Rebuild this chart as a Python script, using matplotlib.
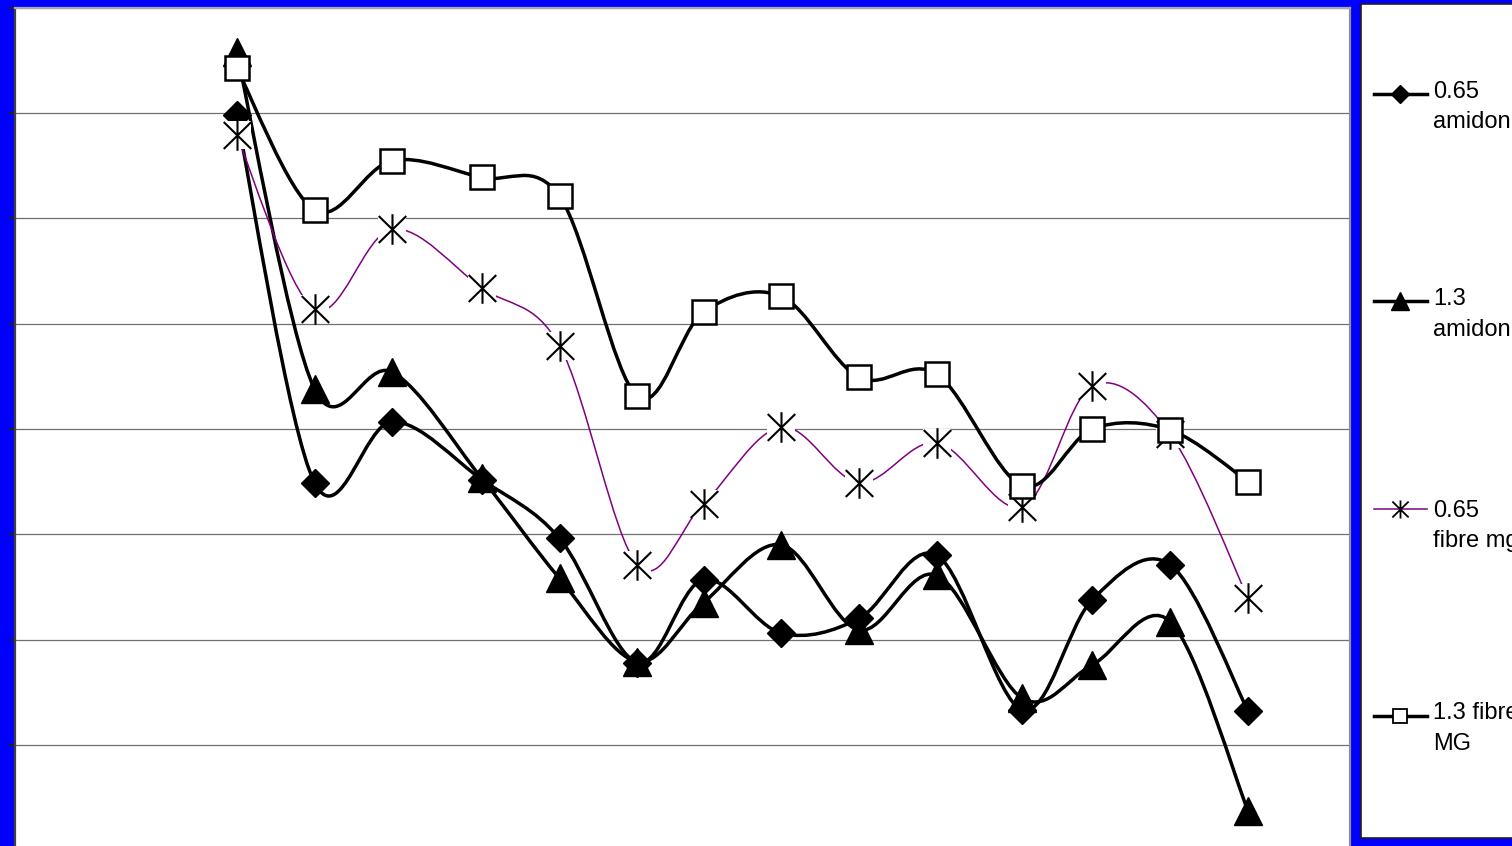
import numpy as np
import matplotlib.pyplot as plt
from matplotlib.path import Path
from matplotlib.patches import PathPatch

# Data (y in gridline units, x in sampling steps)
x_vals = [0, 1, 2, 3.15, 4.15, 5.15, 6, 7, 8, 9, 10.1, 11, 12, 13]
amidon_065 = [6.98, 3.49, 4.07, 3.52, 2.96, 1.78, 2.57, 2.06, 2.20, 2.80, 1.33, 2.38, 2.71, 1.32]
amidon_13 = [7.58, 4.38, 4.54, 3.53, 2.58, 1.79, 2.35, 2.90, 2.09, 2.61, 1.44, 1.76, 2.17, 0.37]
fibre_065 = [6.79, 5.14, 5.90, 5.34, 4.79, 2.71, 3.29, 4.02, 3.49, 3.87, 3.26, 4.41, 3.95, 2.39]
fibre_13 = [7.43, 6.08, 6.55, 6.39, 6.21, 4.31, 5.11, 5.26, 4.49, 4.52, 3.46, 4.00, 3.99, 3.50]
labels = ['0.65\namidon', '1.3\namidon', '0.65\nfibre mg', '1.3 fibre\nMG']

W, H = 1512, 846
BLUE = '#0000FF'
PURPLE = '#800080'

# asterisk marker: vertical bar plus an X
star = Path([(0, -1), (0, 1), (-0.9, -0.88), (0.9, 0.88), (-0.9, 0.88), (0.9, -0.88)],
            [Path.MOVETO, Path.LINETO] * 3)


def smooth_path(xs, ys):
    # Excel style smoothed line: cubic Bezier through every point
    pts = np.column_stack([xs, ys]).astype(float)
    n = len(pts)
    verts = [pts[0]]
    codes = [Path.MOVETO]
    for i in range(n - 1):
        p0 = pts[i - 1] if i > 0 else pts[i]
        p1, p2 = pts[i], pts[i + 1]
        p3 = pts[i + 2] if i + 2 < n else pts[i + 1]
        verts += [p1 + (p2 - p0) / 6, p2 - (p3 - p1) / 6, p2]
        codes += [Path.CURVE4] * 3
    return Path(verts, codes)


styles = [
    dict(data=amidon_065, color='black', lw=2.5, marker='D', ms=14, mfc='black', mew=1, lms=9),
    dict(data=amidon_13, color='black', lw=2.5, marker='^', ms=20, mfc='black', mew=1, lms=13),
    dict(data=fibre_065, color=PURPLE, lw=1.1, marker=star, ms=22, mfc='none', mew=1.5, lms=13),
    dict(data=fibre_13, color='black', lw=2.5, marker='s', ms=17, mfc='white', mew=1.8, lms=10.5),
]

fig = plt.figure(figsize=(W / 100, H / 100), dpi=100, facecolor=BLUE)

# plot area
ax = fig.add_axes([15 / W, (H - 850) / H, (1350 - 15) / W, (850 - 8) / H])
ax.set_facecolor('white')
ax.set_xlim(-2.85, 14.31)
ax.set_ylim(0, 8)
ax.set_yticks(range(0, 9))
ax.set_xticks([])
ax.tick_params(axis='y', direction='out', length=4, width=1.5, color='#202020', labelleft=False)
ax.grid(axis='y', color='#707070', lw=0.9, zorder=0)
ax.spines['left'].set_color('#404040')
ax.spines['left'].set_linewidth(1.6)
ax.spines['top'].set_color('#a8a8a8')
ax.spines['top'].set_linewidth(1.6)
ax.spines['right'].set_color('#909090')
ax.spines['right'].set_linewidth(1.6)
ax.spines['bottom'].set_visible(False)

for i, s in enumerate(styles):
    z = 3 + i
    ax.add_patch(PathPatch(smooth_path(x_vals, s['data']), fill=False, ec=s['color'],
                           lw=s['lw'], capstyle='round', joinstyle='round', zorder=z))
    if s['marker'] is star:
        ax.plot(x_vals, s['data'], ls='none', marker='s', ms=20, mfc='white', mew=0, zorder=z)
    ax.plot(x_vals, s['data'], ls='none', marker=s['marker'], ms=s['ms'], mfc=s['mfc'],
            mec='black', mew=s['mew'], zorder=z)

# legend box (pixel coordinates inside the box)
lax = fig.add_axes([1361 / W, (H - 838) / H, 170 / W, (838 - 4) / H])
lax.set_xlim(1361, 1531)
lax.set_ylim(838, 4)
lax.set_xticks([])
lax.set_yticks([])
for sp in lax.spines.values():
    sp.set_color('#202020')
    sp.set_linewidth(1.2)

handle_y = [94, 301, 509, 716]
text_top = [81, 288, 500, 702]
for s, lab, hy, ty in zip(styles, labels, handle_y, text_top):
    lax.plot([1374, 1427], [hy, hy], color=s['color'], lw=s['lw'])
    lax.plot([1400], [hy], ls='none', marker=s['marker'], ms=s['lms'], mfc=s['mfc'],
             mec='black', mew=min(s['mew'], 1.3))
    lax.text(1433, ty, lab, fontsize=17, family='Liberation Sans', va='top',
             ha='left', linespacing=1.5, clip_on=False)

fig.savefig('out.png', dpi=100, facecolor=BLUE)
